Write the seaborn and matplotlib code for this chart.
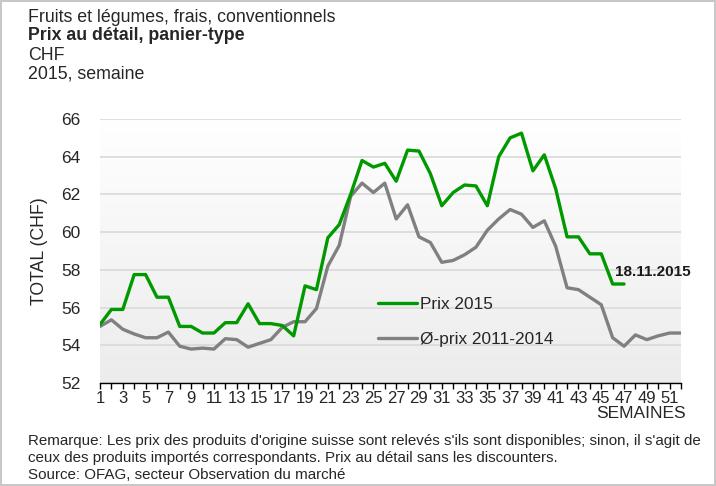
import numpy as np
import pandas as pd
import matplotlib
matplotlib.use('Agg')
import matplotlib.pyplot as plt
import seaborn as sns

# data
weeks_2015 = list(range(1, 48))
prix_2015 = [55.1, 55.9, 55.9, 57.75, 57.75, 56.55, 56.55, 55.0, 55.0, 54.65,
             54.65, 55.2, 55.2, 56.2, 55.15, 55.15, 55.05, 54.5, 57.15, 56.95,
             59.7, 60.4, 62.0, 63.8, 63.45, 63.65, 62.7, 64.35, 64.3, 63.1,
             61.4, 62.1, 62.5, 62.45, 61.4, 64.0, 65.0, 65.25, 63.25, 64.1,
             62.3, 59.75, 59.75, 58.85, 58.85, 57.25, 57.25]
weeks_avg = list(range(1, 53))
prix_moyen = [55.0, 55.35, 54.85, 54.6, 54.4, 54.4, 54.7, 53.95, 53.8, 53.85,
              53.8, 54.35, 54.3, 53.9, 54.1, 54.3, 54.95, 55.25, 55.25, 55.95,
              58.2, 59.3, 61.9, 62.6, 62.1, 62.6, 60.7, 61.45, 59.75, 59.45,
              58.4, 58.5, 58.8, 59.2, 60.1, 60.7, 61.2, 60.95, 60.25, 60.6,
              59.25, 57.05, 56.95, 56.55, 56.15, 54.4, 53.95, 54.55, 54.3, 54.5,
              54.65, 54.65]
label_2015 = 'Prix 2015'
label_avg = 'Ø-prix 2011-2014'
y_ticks = [52, 54, 56, 58, 60, 62, 64, 66]

df_2015 = pd.DataFrame({'semaine': weeks_2015, 'prix': prix_2015})
df_avg = pd.DataFrame({'semaine': weeks_avg, 'prix': prix_moyen})

sns.set_style('white')
plt.rcParams['font.family'] = ['Liberation Sans', 'DejaVu Sans']

fig = plt.figure(figsize=(7.16, 4.86), dpi=100)
fig.patch.set_edgecolor('#c8c8c8')
fig.patch.set_linewidth(1.5)
ax = fig.add_axes([100/716, 1-383/486, 581/716, 264/486])

# gradient background of the plot area
grad = np.linspace(0, 1, 256).reshape(-1, 1)
cmap = matplotlib.colors.LinearSegmentedColormap.from_list('bg', ['#ffffff', '#ececec'])
ax.imshow(grad, aspect='auto', cmap=cmap, extent=[0, 1, 0, 1],
          transform=ax.transAxes, zorder=0)

for v in y_ticks:
    ax.axhline(v, color='#d9d9d9', lw=1.2, zorder=1)

sns.lineplot(data=df_2015, x='semaine', y='prix', color='#009900', lw=2.4,
             label=label_2015, ax=ax, zorder=3)
sns.lineplot(data=df_avg, x='semaine', y='prix', color='#808080', lw=2.4,
             label=label_avg, ax=ax, zorder=2)

ax.set_xlim(1, 52)
ax.set_ylim(52, 66)
ax.set_yticks(y_ticks)
ax.set_xticks(weeks_avg)
ax.set_xticklabels([str(w) if w % 2 == 1 else '' for w in weeks_avg])
ax.tick_params(axis='x', length=4, width=1, direction='out', pad=2,
               labelsize=12, color='black', bottom=True)
ax.tick_params(axis='y', length=0, pad=14, labelsize=12.5)
ax.set_xlabel('')
ax.set_ylabel('')
for s in ['top', 'right', 'left']:
    ax.spines[s].set_visible(False)
ax.spines['bottom'].set_color('black')
ax.spines['bottom'].set_linewidth(1)

leg = ax.legend(loc='upper left', bbox_to_anchor=(0.4785, 0.325), frameon=False,
                fontsize=12.4, labelspacing=1.12, handlelength=2.27, handletextpad=0.17,
                borderpad=0, borderaxespad=0)

ax.annotate('18.11.2015', xy=(47, 57.25), xytext=(-9, 12), textcoords='offset pixels',
            ha='left', va='center', fontsize=11, fontweight='bold', color='#1a1a1a')

fig.text(28/716, 1-17/486, 'Fruits et légumes, frais, conventionnels', fontsize=12.8, va='center')
fig.text(28/716, 1-36/486, 'Prix au détail, panier-type', fontsize=12.8, va='center', fontweight='bold')
fig.text(28/716, 1-55/486, 'CHF', fontsize=12.8, va='center')
fig.text(28/716, 1-74/486, '2015, semaine', fontsize=12.8, va='center')

fig.text(40/716, 1-251/486, 'TOTAL (CHF)', rotation=90, fontsize=12.7, va='center', ha='center')
fig.text(641/716, 1-413/486, 'SEMAINES', fontsize=12.5, va='center', ha='center')

fig.text(28/716, 1-441/486, "Remarque: Les prix des produits d'origine suisse sont relevés s'ils sont disponibles; sinon, il s'agit de",
         fontsize=10.9, va='center')
fig.text(28/716, 1-458/486, 'ceux des produits importés correspondants. Prix au détail sans les discounters.',
         fontsize=10.9, va='center')
fig.text(28/716, 1-475/486, 'Source: OFAG, secteur Observation du marché', fontsize=10.9, va='center')

fig.savefig('out.png', dpi=100, edgecolor=fig.get_edgecolor())
